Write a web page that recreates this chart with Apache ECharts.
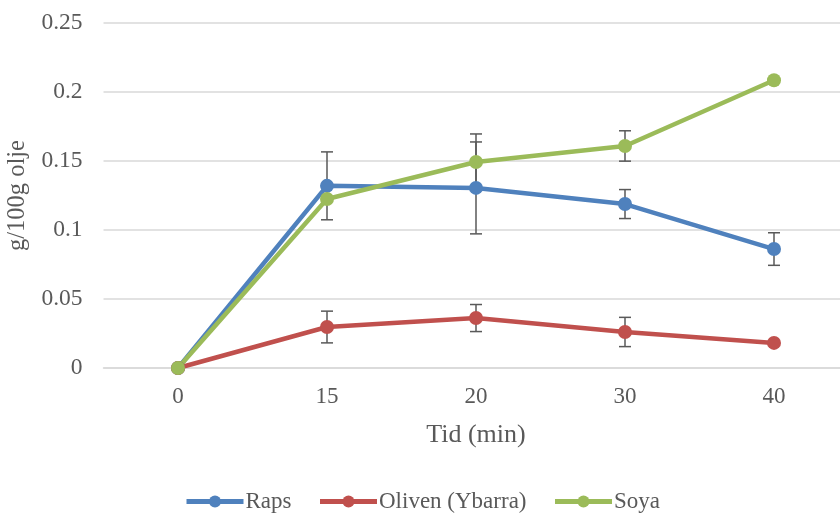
<!DOCTYPE html>
<html>
<head>
<meta charset="utf-8">
<script src="https://cdn.jsdelivr.net/npm/echarts@6/dist/echarts.min.js"></script>
<style>html,body{margin:0;padding:0;background:#fff;}#c{width:840px;height:514px;}</style>
</head>
<body>
<div id="c"></div>
<script>
const categories = ['0', '15', '20', '30', '40'];
const seriesNames = ['Raps', 'Oliven (Ybarra)', 'Soya'];
const raps = [0, 0.132, 0.1305, 0.1188, 0.0862];
const oliven = [0, 0.0297, 0.0362, 0.0261, 0.0182];
const soya = [0, 0.1225, 0.1493, 0.1609, 0.2085];
const rapsErr = [null, 0.0246, 0.0333, 0.0105, 0.0118];
const olivenErr = [null, 0.0115, 0.0098, 0.0106, null];
const soyaErr = [null, null, 0.0203, 0.0110, null];
const colors = ['#4F81BD', '#C0504D', '#9BBB59'];
const font = 'Liberation Serif';

function errData(vals, errs) {
  const out = [];
  vals.forEach((v, i) => {
    if (errs[i] != null) out.push([i, v - errs[i], v + errs[i]]);
  });
  return out;
}

function errSeries(vals, errs) {
  return {
    type: 'custom',
    z: 1,
    silent: true,
    data: errData(vals, errs),
    renderItem: function (params, api) {
      const lo = api.coord([api.value(0), api.value(1)]);
      const hi = api.coord([api.value(0), api.value(2)]);
      const hw = 6;
      const st = { stroke: '#595959', lineWidth: 1.5 };
      return {
        type: 'group',
        children: [
          { type: 'line', shape: { x1: lo[0], y1: lo[1], x2: hi[0], y2: hi[1] }, style: st },
          { type: 'line', shape: { x1: lo[0] - hw, y1: lo[1], x2: lo[0] + hw, y2: lo[1] }, style: st },
          { type: 'line', shape: { x1: hi[0] - hw, y1: hi[1], x2: hi[0] + hw, y2: hi[1] }, style: st }
        ]
      };
    }
  };
}

function lineSeries(name, vals, color) {
  return {
    name: name,
    type: 'line',
    z: 3,
    data: vals,
    symbol: 'circle',
    symbolSize: 14,
    lineStyle: { width: 4.5, color: color },
    itemStyle: { color: color },
    emphasis: { disabled: true }
  };
}

const chart = echarts.init(document.getElementById('c'));
chart.setOption({
  animation: false,
  color: colors,
  textStyle: { fontFamily: font },
  grid: { left: 103.5, width: 745, top: 23, bottom: 146, containLabel: false, outerBoundsMode: 'none' },
  legend: {
    data: seriesNames,
    top: 485,
    left: 179,
    itemWidth: 57,
    itemHeight: 15,
    itemGap: 26,
    selectedMode: false,
    lineStyle: { width: 5 },
    textStyle: { fontFamily: font, fontSize: 23, color: '#595959', padding: [0, 0, 0, -3] }
  },
  xAxis: {
    type: 'category',
    data: categories,
    name: 'Tid (min)',
    nameLocation: 'middle',
    nameGap: 54,
    nameTextStyle: { fontFamily: font, fontSize: 26, color: '#595959' },
    axisLine: { lineStyle: { color: '#D9D9D9', width: 1.5 } },
    axisTick: { show: false },
    axisLabel: { fontFamily: font, fontSize: 23, color: '#595959', margin: 17 }
  },
  yAxis: {
    type: 'value',
    min: 0,
    max: 0.25,
    interval: 0.05,
    name: 'g/100g olje',
    nameLocation: 'middle',
    nameGap: 66,
    nameRotate: 90,
    nameTextStyle: { fontFamily: font, fontSize: 24.5, color: '#595959' },
    axisLine: { show: false },
    axisTick: { show: false },
    splitLine: { lineStyle: { color: '#D9D9D9', width: 1.5 } },
    axisLabel: { fontFamily: font, fontSize: 23.5, color: '#595959', margin: 21 }
  },
  series: [
    errSeries(raps, rapsErr),
    errSeries(oliven, olivenErr),
    errSeries(soya, soyaErr),
    lineSeries(seriesNames[0], raps, colors[0]),
    lineSeries(seriesNames[1], oliven, colors[1]),
    lineSeries(seriesNames[2], soya, colors[2])
  ]
});
</script>
</body>
</html>
